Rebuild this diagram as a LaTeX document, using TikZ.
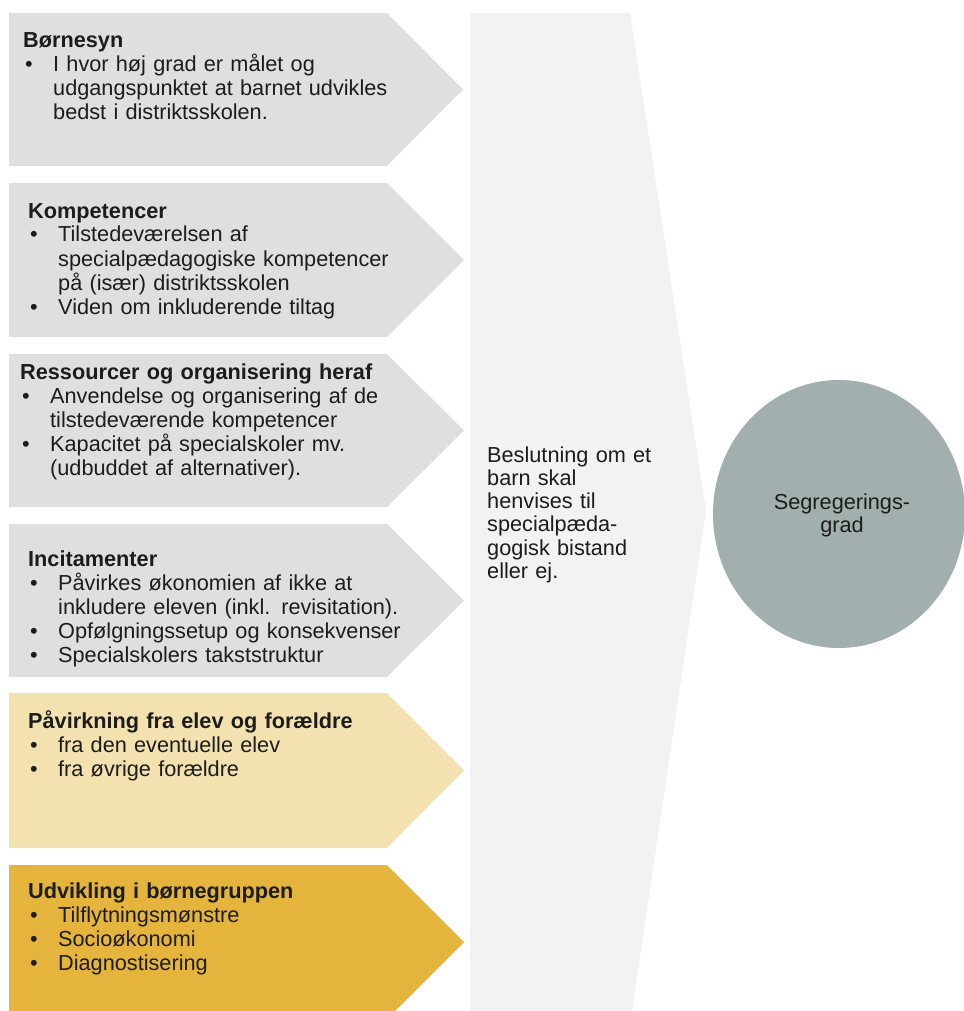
\documentclass[tikz,border=0pt]{standalone}
\usepackage{fontspec}
\setmainfont{Liberation Sans}
\usetikzlibrary{shapes.geometric}
\definecolor{chevgrey}{RGB}{222,224,223}
\definecolor{chevlight}{RGB}{243,226,176}
\definecolor{chevgold}{RGB}{228,180,60}
\definecolor{bigarrow}{RGB}{242,242,240}
\definecolor{circfill}{RGB}{163,175,174}
\definecolor{txtc}{RGB}{28,28,28}
\newcommand\bulitem{\hspace*{2pt}\makebox[28pt][l]{•}}
\newcommand\contline{\hspace*{30pt}}
\begin{document}
\begin{tikzpicture}[x=1pt,y=-1pt,
  boxtxt/.style={anchor=base west, inner sep=0pt, text width=430pt, align=left,
    font=\fontsize{21.7}{24}\selectfont, text=txtc},
  bigtxt/.style={anchor=base west, inner sep=0pt, text width=200pt, align=left,
    font=\fontsize{21.7}{23.3}\selectfont, text=txtc},
  circtxt/.style={inner sep=0pt, align=center,
    font=\fontsize{21.7}{23}\selectfont, text=txtc}]
\useasboundingbox (0,0) rectangle (963,1011);
% big arrow
\fill[bigarrow] (470,13) -- (630,13) -- (706,511) -- (632,1011) -- (470,1011) -- cycle;
% chevrons
\fill[chevgrey] (9,13) -- (387,13) -- (463,89.5) -- (387,166) -- (9,166) -- cycle;
\fill[chevgrey] (9,183) -- (387,183) -- (464,260) -- (387,337) -- (9,337) -- cycle;
\fill[chevgrey] (9,354) -- (387,354) -- (464,430.5) -- (387,507) -- (9,507) -- cycle;
\fill[chevgrey] (9,524) -- (387,524) -- (464,600.5) -- (387,677) -- (9,677) -- cycle;
\fill[chevlight] (9,693) -- (387,693) -- (464,770.5) -- (387,848) -- (9,848) -- cycle;
\fill[chevgold] (9,865) -- (387,865) -- (464,942) -- (395,1011) -- (9,1011) -- cycle;
% circle
\node[ellipse, minimum width=252pt, minimum height=268pt, fill=circfill, inner sep=0pt] (circ) at (839,514) {};
% texts
\node[boxtxt] (t1) at (23,48) {\textbf{Børnesyn}\\
\bulitem I hvor høj grad er målet og\\
\contline udgangspunktet at barnet udvikles\\
\contline bedst i distriktsskolen.};
\node[boxtxt] (t2) at (28,218) {\textbf{Kompetencer}\\
\bulitem Tilstedeværelsen af\\
\contline specialpædagogiske kompetencer\\
\contline på (især) distriktsskolen\\
\bulitem Viden om inkluderende tiltag};
\node[boxtxt] (t3) at (20,379) {\textbf{Ressourcer og organisering heraf}\\
\bulitem Anvendelse og organisering af de\\
\contline tilstedeværende kompetencer\\
\bulitem Kapacitet på specialskoler mv.\\
\contline (udbuddet af alternativer).};
\node[boxtxt] (t4) at (28,566) {\textbf{Incitamenter}\\
\bulitem Påvirkes økonomien af ikke at\\
\contline inkludere eleven (inkl. revisitation).\\
\bulitem Opfølgningssetup og konsekvenser\\
\bulitem Specialskolers takststruktur};
\node[boxtxt] (t5) at (28,728) {\textbf{Påvirkning fra elev og forældre}\\
\bulitem fra den eventuelle elev\\
\bulitem fra øvrige forældre};
\node[boxtxt] (t6) at (28,898) {\textbf{Udvikling i børnegruppen}\\
\bulitem Tilflytningsmønstre\\
\bulitem Socioøkonomi\\
\bulitem Diagnostisering};
\node[bigtxt] (tb) at (487,462) {Beslutning om et\\ barn skal\\ henvises til\\ specialpæda-\\ gogisk bistand\\ eller ej.};
\node[circtxt] (tc) at (842,515) {Segregerings-\\grad};
\end{tikzpicture}
\end{document}
